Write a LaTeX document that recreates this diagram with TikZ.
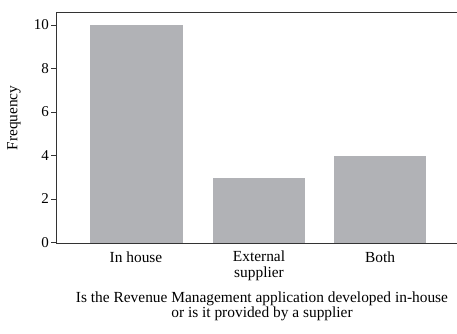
\documentclass[tikz,border=0pt]{standalone}
\usepackage{fontspec}
\setmainfont{Liberation Serif}
\definecolor{bargray}{HTML}{B1B2B6}
\definecolor{axisgray}{HTML}{333333}
\begin{document}
\begin{tikzpicture}[x=1pt,y=-1pt,
  bar/.style={fill=bargray,draw=none},
  axisline/.style={draw=axisgray,line width=1pt},
  lbl/.style={font=\fontsize{15.4}{15.5}\selectfont,inner sep=0pt,align=center},
  ticklbl/.style={font=\fontsize{15}{17}\selectfont,inner sep=0pt,anchor=east}]
\useasboundingbox (0,0) rectangle (457,333);
% bars
\fill[bar] (90,24.7) rectangle (182.7,242.7);
\fill[bar] (213,177.7) rectangle (305,242.7);
\fill[bar] (334,156) rectangle (425.7,242.7);
% axes
\coordinate (tl) at (56,12);
\coordinate (tr) at (457,12);
\coordinate (bl) at (56,243);
\coordinate (br) at (457,243);
\draw[axisline] (tr) -- (tl) -- (bl) -- (br);
% ticks
\foreach \v/\yy in {0/242.5,2/199,4/155.5,6/112,8/68.5,10/25}{
  \coordinate (t\v) at (51,\yy);
  \draw[axisgray,line width=0.8pt] (t\v) -- ++(5,0);
  \node[ticklbl] (n\v) at (49,\yy) {\v};
}
\node[lbl,rotate=90] (ylab) at (14,118) {Frequency};
\node[lbl] (c1) at (136,257.5) {In house};
\node[lbl,anchor=north] (c2) at (259,251) {External\\supplier};
\node[lbl] (c3) at (380,257.5) {Both};
\node[lbl,anchor=north] (cap) at (262,291.5) {Is the Revenue Management application developed in-house\\or is it provided by a supplier};
\end{tikzpicture}
\end{document}
